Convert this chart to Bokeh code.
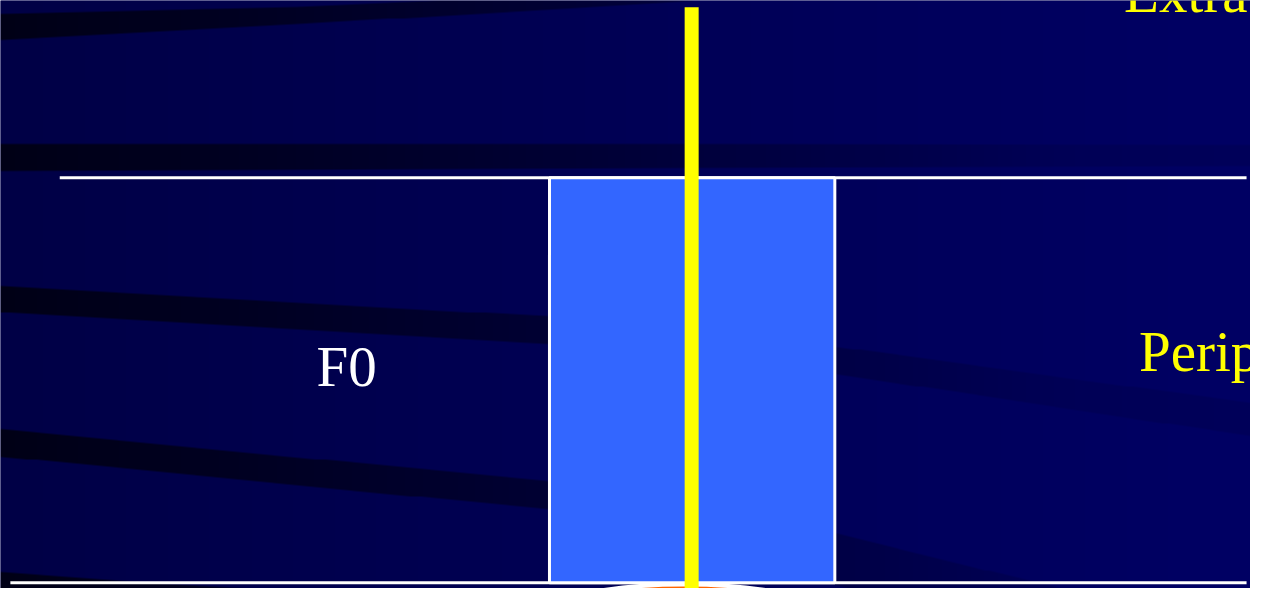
import numpy as np
from bokeh.plotting import figure
from bokeh.models import Range1d
from bokeh.embed import file_html
from bokeh.resources import INLINE
from bokeh.core.properties import value

# ---- content of the slide fragment ----
labels = ["F0", "Perip", "Extra"]
label_x = [320, 1153, 1138]
label_y = [376, 361, -8]
label_colors = ["#FFFFFF", "#FFFF00", "#FFFF00"]

box_left = [556]
box_right = [845]
box_top = [182]
box_bottom = [598]

rule_y = [182, 598]
rule_x0 = [60, 10]
rule_x1 = [1262, 1262]

marker_x = [700]
marker_y0 = [7]
marker_y1 = [610]

blob_x = [693]
blob_y = [646]

# ---- decorative background (gradient navy with dark curved bands) ----
W, H = 1266, 604
stripe_ctrl_x = [[0, 300, 700], [0, 700, 1266], [0, 553, 845, 1266],
                 [0, 553, 845, 1100], [0, 150, 400]]
stripe_top = [[13, 6, -12], [147, 147, 148], [293, 324, 355, 413],
              [440, 493, 547, 610], [587, 598, 612]]
stripe_bot = [[40, 24, 0], [175, 172, 170], [320, 352, 383, 447],
              [468, 522, 600, 660], [650, 650, 650]]

xs = np.arange(W, dtype=float)
ys = np.arange(H, dtype=float)[:, None]
base = 70 + 30 * (xs / W)
blue = np.tile(base, (H, 1))
fade = np.clip(1.0 - 1.0 * (xs / W), 0.15, 1.0)
for cx, tp, bt in zip(stripe_ctrl_x, stripe_top, stripe_bot):
    top = np.interp(xs, cx, tp, right=np.nan)
    bot = np.interp(xs, cx, bt, right=np.nan)
    cov = np.clip(ys - top + 0.5, 0, 1) * np.clip(bot - ys + 0.5, 0, 1)
    cov = np.nan_to_num(cov)
    blue = blue * (1 - 0.68 * fade * cov)

img = np.zeros((H, W), dtype=np.uint32)
view = img.view(dtype=np.uint8).reshape((H, W, 4))
view[:, :, 0] = 0
view[:, :, 1] = 0
view[:, :, 2] = np.clip(blue, 0, 255).astype(np.uint8)
view[:, :, 3] = 255

p = figure(width=1250, height=588, x_range=Range1d(0, W), y_range=Range1d(H, 0),
           output_backend="svg", toolbar_location=None, min_border=0,
           x_axis_location=None, y_axis_location=None)
p.grid.visible = False
p.outline_line_color = None
p.background_fill_color = "#000052"
p.border_fill_color = "#000052"

p.image_rgba(image=[img], x=0, y=0, dw=W, dh=H)

p.segment(x0=rule_x0, y0=rule_y, x1=rule_x1, y1=rule_y, line_color="white", line_width=3)
p.quad(left=box_left, right=box_right, top=box_top, bottom=box_bottom,
       fill_color="#3366FF", line_color="white", line_width=3)
p.ellipse(x=blob_x, y=blob_y, width=340, height=92, fill_color="#FF6600",
          line_color="white", line_width=4)
p.segment(x0=marker_x, y0=marker_y0, x1=marker_x, y1=marker_y1,
          line_color="#FFFF00", line_width=14, line_cap="butt")

p.text(x=label_x, y=label_y, text=labels, text_color=label_colors,
       text_font=value("Liberation Serif"), text_font_size="57px",
       text_baseline="alphabetic", text_align="left")

open("out.html", "w").write(file_html(p, INLINE))
